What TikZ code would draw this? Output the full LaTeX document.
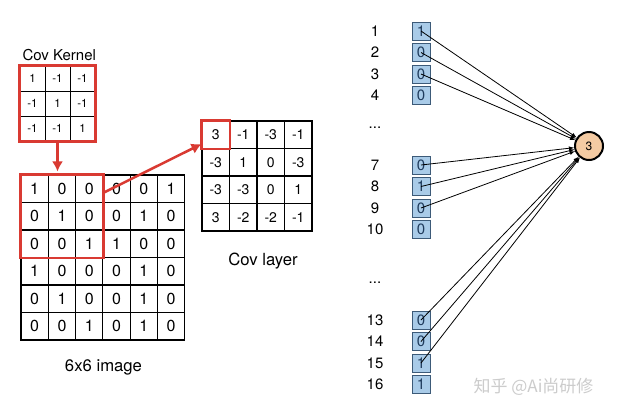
\documentclass[tikz,border=0pt]{standalone}
\usepackage{fontspec}
\setmainfont{TeX Gyre Heros}
\newfontfamily\cjk{Noto Sans CJK SC}
\usetikzlibrary{positioning,arrows,arrows.meta,calc}

\definecolor{kred}{HTML}{D93A32}
\definecolor{bitfill}{HTML}{A9CBE8}
\definecolor{bitline}{HTML}{3C5A78}
\definecolor{bittext}{HTML}{1F3B5C}
\definecolor{peach}{HTML}{F4CBA3}

\begin{document}
\begin{tikzpicture}[x=1pt,y=-1pt,
  kcell/.style={draw,line width=1pt,inner sep=0pt,minimum size=25pt,font=\fontsize{11.5}{12}\selectfont},
  icell/.style={draw,line width=1.1pt,inner sep=0pt,minimum width=27.3pt,minimum height=27.5pt,font=\fontsize{16}{18}\selectfont},
  ccell/.style={draw,line width=1.1pt,inner sep=0pt,minimum size=27.5pt,font=\fontsize{14}{16}\selectfont},
  redbox/.style={draw=kred,line width=2.5pt},
  redarrow/.style={kred,line width=2.5pt,-{Latex[length=10pt,width=11pt]}},
  caption/.style={font=\fontsize{16.7}{18}\selectfont},
  idx/.style={font=\fontsize{15}{17}\selectfont},
  bit/.style={draw=bitline,fill=bitfill,line width=1pt,inner sep=0pt,minimum size=18pt,text=bittext,font=\fontsize{15}{17}\selectfont},
  neuron/.style={circle,draw,line width=2pt,fill=peach,inner sep=0pt,minimum size=28pt,font=\fontsize{12}{14}\selectfont},
  conn/.style={line width=0.8pt,-latex}]

  \fill[white] (0,0) rectangle (621,413);
  \useasboundingbox (0,0) rectangle (621,413);

  % kernel
  \node[caption,font=\fontsize{15}{16}\selectfont,anchor=west] (kcap) at (19,55) {Cov Kernel};
  \foreach \row [count=\r] in {{1,-1,-1},{-1,1,-1},{-1,-1,1}}
    \foreach \v [count=\c] in \row
      \node[kcell] (k\r\c) at ({20+25*(\c-0.5)},{66+25*(\r-0.5)}) {\v};
  \draw[redbox] (k11.north west) rectangle (k33.south east);

  % input image
  \foreach \row [count=\r] in {{1,0,0,0,0,1},{0,1,0,0,1,0},{0,0,1,1,0,0},{1,0,0,0,1,0},{0,1,0,0,1,0},{0,0,1,0,1,0}}
    \foreach \v [count=\c] in \row
      \node[icell] (img\r\c) at ({21+27.3*(\c-0.5)},{175+27.5*(\r-0.5)}) {\v};
  \draw[redbox] (img11.north west) rectangle (img33.south east);
  \node[caption] (icap) at (103.5,367) {6x6 image};

  % conv layer
  \foreach \row [count=\r] in {{3,-1,-3,-1},{-3,1,0,-3},{-3,-3,0,1},{3,-2,-2,-1}}
    \foreach \v [count=\c] in \row
      \node[ccell] (cov\r\c) at ({202+27.5*(\c-0.5)},{121+27.5*(\r-0.5)}) {\v};
  \draw[redbox] (cov11.north west) rectangle (cov11.south east);
  \node[caption] (ccap) at (263,261) {Cov layer};

  \draw[redarrow,shorten >=3pt] (k32.south) -- (k32.south |- img12.north);
  \draw[redarrow] ([yshift=-4pt]img13.east) -- ([yshift=5pt]cov11.south west);

  % flattened input and neuron
  \foreach \i/\v/\y in {1/1/31,2/0/52.5,3/0/74,4/0/95.5,7/0/165,8/1/186.5,9/0/208,10/0/229.5,13/0/320,14/0/341.5,15/1/363,16/1/384.5} {
    \node[idx] (n\i) at (375,\y) {\i};
    \node[bit] (b\i) at (421,\y) {\v};
  }
  \node[idx] (dots1) at (375,128) {...};
  \node[idx] (dots2) at (375,283) {...};

  \node[neuron] (out) at (589,146) {3};
  \foreach \i in {1,2,3,7,8,9,13,14,15}
    \draw[conn] (b\i.center) -- (out);

  \node[text=black!20,font=\cjk\fontsize{17}{19}\selectfont,anchor=west] (wm) at (470,387) {知乎 @Ai尚研修};

\end{tikzpicture}
\end{document}
